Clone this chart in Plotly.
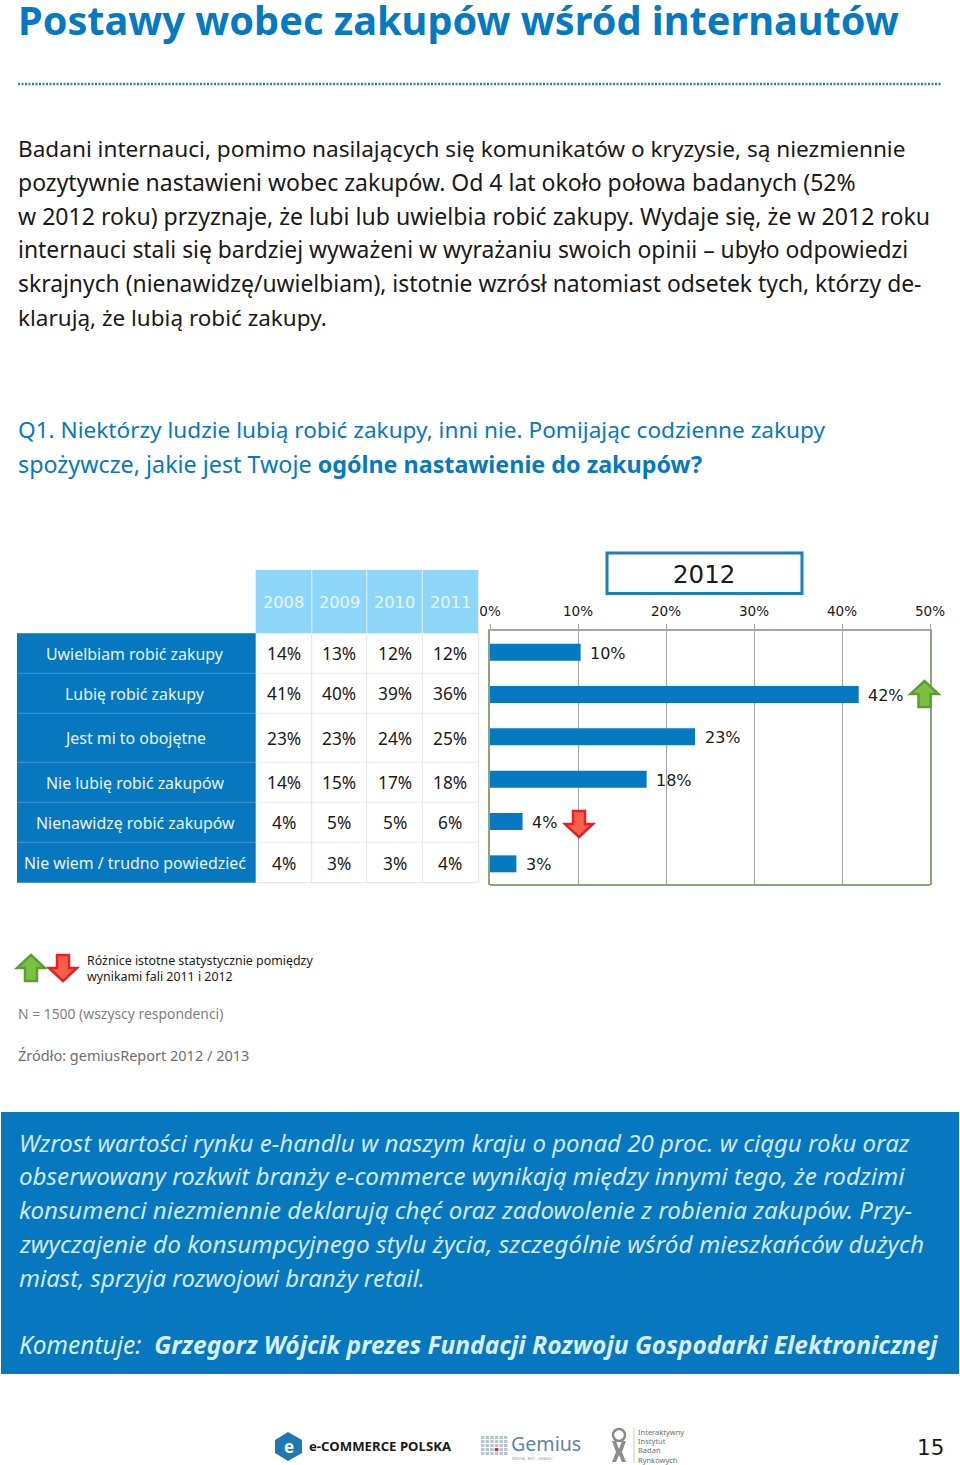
import plotly.graph_objects as go

W, H = 960, 1465
BLUE = "#0579c2"
BAND = "#0777bf"
HEAD = "#8dd6f9"
FONT = "Noto Sans"
CHART_FONT = "DejaVu Sans"

categories = ["Uwielbiam robić zakupy", "Lubię robić zakupy", "Jest mi to obojętne",
              "Nie lubię robić zakupów", "Nienawidzę robić zakupów", "Nie wiem / trudno powiedzieć"]
years = ["2008", "2009", "2010", "2011"]
table_values = [
    ["14%", "13%", "12%", "12%"],
    ["41%", "40%", "39%", "36%"],
    ["23%", "23%", "24%", "25%"],
    ["14%", "15%", "17%", "18%"],
    ["4%", "5%", "5%", "6%"],
    ["4%", "3%", "3%", "4%"],
]
values_2012 = [10.3, 41.9, 23.3, 17.8, 3.7, 3.0]
labels_2012 = ["10%", "42%", "23%", "18%", "4%", "3%"]
axis_ticks = [0, 10, 20, 30, 40, 50]

title = "Postawy wobec zakupów wśród internautów"
body_lines = [
    "Badani internauci, pomimo nasilających się komunikatów o kryzysie, są niezmiennie",
    "pozytywnie nastawieni wobec zakupów. Od 4 lat około połowa badanych (52%",
    "w 2012 roku) przyznaje, że lubi lub uwielbia robić zakupy. Wydaje się, że w 2012 roku",
    "internauci stali się bardziej wyważeni w wyrażaniu swoich opinii – ubyło odpowiedzi",
    "skrajnych (nienawidzę/uwielbiam), istotnie wzrósł natomiast odsetek tych, którzy de-",
    "klarują, że lubią robić zakupy.",
]
question_lines = [
    "Q1. Niektórzy ludzie lubią robić zakupy, inni nie. Pomijając codzienne zakupy",
    "spożywcze, jakie jest Twoje <b>ogólne nastawienie do zakupów?</b>",
]
comment_lines = [
    "Wzrost wartości rynku e-handlu w naszym kraju o ponad 20 proc. w ciągu roku oraz",
    "obserwowany rozkwit branży e-commerce wynikają między innymi tego, że rodzimi",
    "konsumenci niezmiennie deklarują chęć oraz zadowolenie z robienia zakupów. Przy-",
    "zwyczajenie do konsumpcyjnego stylu życia, szczególnie wśród mieszkańców dużych",
    "miast, sprzyja rozwojowi branży retail.",
]
body_sizes = [22.6, 23.0, 23.1, 22.85, 22.87, 22.5]
question_sizes = [22.6, 23.3]
comment_sizes = [24.0, 24.2, 24.1, 24.4, 24.0]

px = lambda x: x / W
py = lambda y: 1 - y / H
ann, shp = [], []


def txt(x, y, s, size, color="#1a1a1a", anchor="left", font=FONT):
    ann.append(dict(x=px(x), y=py(y), xref="paper", yref="paper", text=s, showarrow=False,
                    xanchor=anchor, yanchor="middle", borderpad=0,
                    font=dict(size=size, color=color, family=font)))


def rect(x0, y0, x1, y1, fill, line=None, lw=0, layer="below"):
    shp.append(dict(type="rect", xref="paper", yref="paper", x0=px(x0), x1=px(x1), y0=py(y0), y1=py(y1),
                    fillcolor=fill, line=dict(color=line or fill, width=lw), layer=layer))


def hline(x0, x1, y, color, width=1, dash="solid"):
    shp.append(dict(type="line", xref="paper", yref="paper", x0=px(x0), x1=px(x1), y0=py(y), y1=py(y),
                    line=dict(color=color, width=width, dash=dash), layer="below"))


def vline(x, y0, y1, color, width=1):
    shp.append(dict(type="line", xref="paper", yref="paper", x0=px(x), x1=px(x), y0=py(y0), y1=py(y1),
                    line=dict(color=color, width=width), layer="below"))


def poly(points, fill, line=None, lw=0):
    path = "M " + " L ".join(f"{px(a):.5f},{py(b):.5f}" for a, b in points) + " Z"
    shp.append(dict(type="path", xref="paper", yref="paper", path=path, fillcolor=fill,
                    line=dict(color=line or fill, width=lw), layer="above"))


def arrow(cx, cy, up=True):
    s = -1 if up else 1
    fill, edge = ("#7ac143", "#5c9e31") if up else ("#f4604a", "#ee1c25")
    pts = [(-6, -13), (6, -13), (6, 0), (14, 0), (0, 13), (-14, 0), (-6, 0)]
    poly([(cx + a, cy + s * b) for a, b in pts], fill, edge, 2.5)


# ---------- header text ----------
txt(17, 20, f"<b>{title}</b>", 39.7, BLUE)
hline(18, 942, 84, "#2a82b5", 2.5, "2px,1.5px")
for i, line in enumerate(body_lines):
    txt(17, 148 + i * 33.9, line, body_sizes[i])
for i, line in enumerate(question_lines):
    txt(17, 430 + i * 34, line, question_sizes[i], BLUE)

# ---------- table ----------
rows = [633.3, 673.3, 713.3, 762.3, 802.3, 842.3, 882.7]
cols = [255.7, 311.7, 366.7, 422.3, 478.3]
rect(255.7, 570, 478.3, 633.3, HEAD)
for x in cols[1:4]:
    vline(x, 570, 633.3, "#d8eefa", 1.2)
for j, y in enumerate(years):
    txt((cols[j] + cols[j + 1]) / 2, 602, y, 16.2, "#eaf6fd", "center", CHART_FONT)
rect(17, 633.3, 255.7, 882.7, BAND)
for i, cat in enumerate(categories):
    cy = (rows[i] + rows[i + 1]) / 2
    txt(135, cy + 0.5, cat, 15.9, "#e8f4fb", "center")
    if i:
        hline(17, 255.7, rows[i], "#3d95cf", 1)
        hline(255.7, 478.3, rows[i], "#ececec", 1)
    for j, v in enumerate(table_values[i]):
        txt((cols[j] + cols[j + 1]) / 2, cy + 0.5, v, 17.3, "#1a1a1a", "center")
hline(255.7, 478.3, 882.7, "#e4e4e4", 1)
for x in cols[1:]:
    vline(x, 633.3, 882.7, "#e4e4e4", 1)

# ---------- 2012 chart ----------
shp.append(dict(type="rect", xref="paper", yref="paper", x0=px(607), x1=px(802), y0=py(553), y1=py(593.5),
                fillcolor="white", line=dict(color="#1e7fbd", width=3), layer="below"))
txt(703.5, 574, "2012", 24.5, "#1a1a1a", "center", CHART_FONT)

fig = go.Figure(go.Bar(
    x=values_2012, y=categories, orientation="h",
    marker=dict(color=BLUE, line=dict(width=0)), width=0.4, hoverinfo="skip"))

for cat, val, lab in zip(categories, values_2012, labels_2012):
    ann.append(dict(x=val, y=cat, xref="x", yref="y", text=lab, showarrow=False, xanchor="left",
                    yanchor="middle", xshift=8.5, yshift=-1, borderpad=0,
                    font=dict(size=16, color="#1a1a1a", family=CHART_FONT)))

shp.append(dict(type="line", xref="x domain", yref="y domain", x0=0, x1=1, y0=0, y1=0,
                line=dict(color="#8aa874", width=2), layer="below"))
arrow(924.5, 694, True)
arrow(579, 824, False)

# ---------- notes ----------
arrow(31, 968, True)
arrow(63, 968, False)
txt(85.5, 961, "Różnice istotne statystycznie pomiędzy", 12.4)
txt(85.5, 977, "wynikami fali 2011 i 2012", 12.4)
txt(17, 1013, "N = 1500 (wszyscy respondenci)", 13.9, "#7f7f7f")
txt(17, 1055, "Źródło: gemiusReport 2012 / 2013", 14.5, "#6f6f6f")

# ---------- comment band ----------
rect(1, 1112, 959, 1374, BAND)
for i, line in enumerate(comment_lines):
    txt(18, 1142 + i * 33.8, f"<i>{line}</i>", comment_sizes[i], "#cfe8f7")
txt(18, 1344, "<i>Komentuje:  <b>Grzegorz Wójcik prezes Fundacji Rozwoju Gospodarki Elektronicznej</b></i>",
    24.5, "#d8edf9")

# ---------- footer logos ----------
poly([(288, 1432), (302, 1440), (302, 1453), (288, 1461), (275, 1453), (275, 1440)], "#1f78b4")
txt(288.5, 1446, "<b>e</b>", 17, "white", "center")
txt(308, 1445.5, "<b>e-COMMERCE POLSKA</b>", 13.2, "#1a1a1a")
for col in range(6):
    for r in range(5):
        c = "#d8232a" if col == 3 and r == 3 else "#b9c6d2"
        rect(481 + col * 4.6, 1436 + r * 4, 484.5 + col * 4.6, 1439 + r * 4, c)
txt(510, 1443.5, "Gemius", 19.6, "#5a86ad")
txt(511, 1458, "MEDIA   BEZ   GRANIC", 4, "#9aa7b3")
shp.append(dict(type="circle", xref="paper", yref="paper", x0=px(613), x1=px(625), y0=py(1429), y1=py(1441),
                fillcolor="white", line=dict(color="#8a8a8a", width=2.5), layer="below"))
poly([(612, 1441), (616, 1441), (619, 1449), (622, 1441), (626, 1441), (622, 1452), (626, 1462), (622, 1462),
      (619, 1455), (616, 1462), (612, 1462), (616, 1452)], "#8d8d8d")
vline(634, 1428, 1463, "#c8c8c8", 1)
for i, t in enumerate(["Interaktywny", "Instytut", "Badań", "Rynkowych"]):
    txt(637, 1432 + i * 9.2, t, 7.5, "#6e6e6e")
txt(916, 1447, "15", 21.5, "#1a1a1a", "left", CHART_FONT)

fig.update_layout(
    width=W, height=H, margin=dict(l=0, r=0, t=0, b=0, autoexpand=False), paper_bgcolor="white", plot_bgcolor="white",
    showlegend=False, annotations=ann, shapes=shp,
    xaxis=dict(domain=[490 / W, 930 / W], range=[0, 50], side="top", tickvals=axis_ticks,
               ticktext=[f"{t}%" for t in axis_ticks], ticks="outside", ticklen=5, tickcolor="#a6a6a6",
               showgrid=True, gridcolor="#a6a6a6", gridwidth=1.2, zeroline=False, showline=True,
               linecolor="#a6a6a6", linewidth=1.5, ticklabelstandoff=3,
               tickfont=dict(size=13.5, family=CHART_FONT, color="#1a1a1a")),
    yaxis=dict(domain=[1 - 885 / H, 1 - 631 / H], autorange="reversed", showticklabels=False, ticks="",
               showgrid=False, showline=True, mirror=True, linecolor="#8aa874", linewidth=1.5, zeroline=False),
)
fig.write_html("out.html", post_script="document.body.style.margin='0';",
               config=dict(displayModeBar=False))
